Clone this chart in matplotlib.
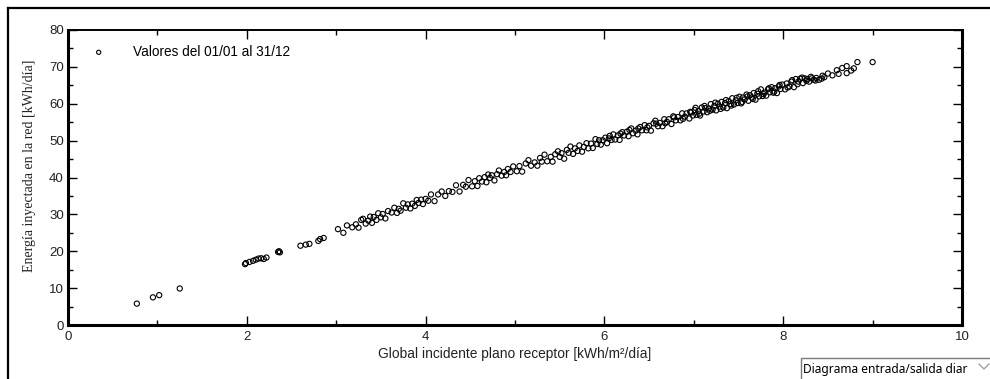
import matplotlib.pyplot as plt
from matplotlib.lines import Line2D
from matplotlib.patches import Rectangle
from matplotlib.ticker import MultipleLocator

# daily values: global irradiation on collector plane vs. energy injected into grid
irr = [0.77, 0.95, 1.02, 1.25,
       1.98, 1.99, 2.03, 2.07, 2.10, 2.13, 2.16, 2.19, 2.22,
       2.35, 2.36, 2.37, 2.60, 2.66, 2.70, 2.80, 2.82, 2.86,
       3.02, 3.08, 3.12, 3.18, 3.22, 3.25, 3.28, 3.30, 3.33, 3.36, 3.38, 3.40,
       3.42, 3.45, 3.47, 3.50, 3.52, 3.55, 3.58, 3.62, 3.65, 3.68, 3.70, 3.72,
       3.75, 3.78, 3.80, 3.83, 3.85, 3.88, 3.90, 3.92, 3.95, 3.97, 4.00,
       4.03, 4.06, 4.10, 4.14, 4.18, 4.22, 4.26, 4.30, 4.34, 4.38, 4.42, 4.45,
       4.48, 4.52, 4.55, 4.58, 4.60, 4.63, 4.66, 4.68, 4.70, 4.72, 4.74, 4.77,
       4.80, 4.82, 4.85, 4.88, 4.90, 4.92, 4.95, 4.98,
       5.02, 5.05, 5.08, 5.12, 5.15, 5.18, 5.22, 5.25, 5.28, 5.30, 5.33, 5.36,
       5.40, 5.42, 5.45, 5.48, 5.50, 5.52, 5.55, 5.58, 5.60, 5.62, 5.65, 5.67,
       5.70, 5.72, 5.75, 5.77, 5.80, 5.82, 5.85, 5.87, 5.90, 5.92, 5.94, 5.96, 5.98,
       6.01, 6.03, 6.05, 6.08, 6.10, 6.12, 6.15, 6.17, 6.20, 6.22, 6.25, 6.27,
       6.30, 6.32, 6.35, 6.37, 6.40, 6.42, 6.45, 6.47, 6.50, 6.52, 6.55, 6.57,
       6.60, 6.62, 6.65, 6.67, 6.70, 6.72, 6.75, 6.77, 6.80, 6.82, 6.85, 6.87,
       6.90, 6.92, 6.95, 6.97, 6.99,
       7.01, 7.03, 7.05, 7.07, 7.09, 7.11, 7.13, 7.15, 7.17, 7.19, 7.21, 7.23,
       7.25, 7.27, 7.29, 7.31, 7.33, 7.35, 7.37, 7.39, 7.41, 7.43, 7.45, 7.47,
       7.49, 7.51, 7.53, 7.55, 7.57, 7.59, 7.61, 7.63, 7.65, 7.67, 7.69, 7.71,
       7.73, 7.75, 7.77, 7.79, 7.81, 7.83, 7.85, 7.87, 7.89, 7.91, 7.93, 7.95,
       7.97, 7.99,
       8.02, 8.04, 8.07, 8.09, 8.12, 8.14, 8.17, 8.19, 8.22, 8.24, 8.27, 8.29,
       8.32, 8.34, 8.37, 8.40, 8.43, 8.46, 8.50, 8.55, 8.60, 8.62, 8.66, 8.71,
       8.71, 8.76, 8.79, 8.83, 9.00,
       6.06, 6.18, 6.28, 6.38, 6.48, 6.58, 6.68, 6.78, 6.88, 6.96,
       7.02, 7.06, 7.12, 7.18, 7.24, 7.30, 7.36, 7.42, 7.48, 7.54, 7.60, 7.66,
       7.72, 7.78, 7.84, 7.90, 7.96, 8.05, 8.10, 8.16, 8.21, 8.26, 8.31, 8.36, 8.44]

energy = [5.8, 7.5, 8.1, 9.9,
          16.5, 16.8, 17.1, 17.4, 17.7, 18.0, 18.1, 17.9, 18.3,
          19.8, 20.0, 19.7, 21.5, 21.8, 22.0, 22.8, 23.3, 23.6,
          26.0, 25.0, 27.0, 26.5, 27.3, 26.4, 28.5, 28.8, 27.5, 28.3, 29.4, 27.7,
          29.3, 28.5, 30.3, 29.2, 30.1, 28.9, 30.9, 30.5, 31.8, 30.4, 31.5, 31.0,
          33.0, 31.8, 32.7, 31.6, 32.9, 32.3, 33.9, 33.1, 34.0, 32.8, 34.2,
          33.7, 35.4, 33.6, 35.4, 36.2, 35.0, 36.3, 36.1, 37.9, 36.2, 38.0, 37.5,
          39.3, 37.6, 39.0, 37.7, 39.8, 38.9, 40.1, 38.7, 40.8, 39.9, 40.6, 39.2,
          40.9, 41.9, 40.5, 41.5, 40.6, 42.3, 41.5, 43.0,
          41.7, 43.1, 41.6, 43.8, 44.7, 43.2, 44.1, 43.2, 45.3, 44.3, 46.2, 44.4,
          45.6, 44.3, 46.3, 47.1, 45.6, 46.6, 45.1, 47.5, 46.7, 48.4, 46.4, 47.9,
          47.2, 48.7, 47.0, 48.3, 49.3, 47.9, 49.2, 48.0, 50.4, 49.1, 50.1, 48.9, 50.1,
          50.8, 49.3, 50.6, 50.2, 51.7, 50.3, 51.4, 50.2, 52.3, 51.4, 52.4, 51.2,
          53.3, 52.0, 52.7, 51.7, 53.7, 52.8, 54.2, 52.8, 54.0, 52.7, 54.7, 55.4,
          53.9, 54.8, 53.9, 55.8, 55.1, 55.8, 54.5, 56.6, 55.5, 56.4, 55.5, 57.4,
          56.5, 57.4, 56.0, 57.6, 56.8,
          58.3, 57.0, 58.0, 56.8, 59.0, 57.9, 58.8, 57.7, 58.7, 59.9, 58.4, 59.4,
          58.2, 60.0, 59.2, 60.5, 59.0, 60.2, 58.8, 60.7, 59.9, 61.5, 59.8, 60.9,
          60.2, 61.9, 60.1, 61.7, 61.2, 62.5, 60.8, 62.3, 61.7, 62.9, 61.1, 62.7,
          62.0, 63.9, 62.1, 63.0, 62.2, 63.9, 63.1, 64.5, 63.0, 64.2, 62.9, 64.7,
          64.0, 65.2,
          63.9, 65.5, 64.7, 66.0, 64.5, 66.7, 66.0, 66.8, 65.6, 66.9, 66.7, 66.0,
          66.9, 66.5, 67.0, 66.5, 66.8, 67.2, 68.2, 67.7, 69.1, 68.1, 69.7, 70.2,
          68.3, 69.0, 69.6, 71.3, 71.3,
          51.3, 51.9, 52.9, 53.3, 53.6, 54.6, 54.7, 56.3, 55.9, 57.8,
          58.9, 57.3, 59.4, 58.1, 60.3, 58.6, 61.0, 59.5, 61.6, 60.5, 62.0, 61.3,
          63.4, 62.6, 64.2, 63.3, 65.1, 64.4, 66.4, 65.3, 67.1, 66.2, 67.3, 66.3, 67.6]

legend_label = 'Valores del 01/01 al 31/12'
x_label = 'Global incidente plano receptor [kWh/m²/día]'
y_label = 'Energía inyectada en la red [kWh/día]'
combo_text = 'Diagrama entrada/salida diar'

fig = plt.figure(figsize=(9.9, 3.79), dpi=100)
ax = fig.add_axes([68 / 990, 1 - 325 / 379, (962 - 68) / 990, (325 - 30) / 379])

ax.scatter(irr, energy, s=14, facecolors='none', edgecolors='black',
           linewidths=0.8, label=legend_label, zorder=3)

ax.set_xlim(0, 10)
ax.set_ylim(0, 80)
ax.xaxis.set_major_locator(MultipleLocator(2))
ax.xaxis.set_minor_locator(MultipleLocator(1))
ax.yaxis.set_major_locator(MultipleLocator(10))
ax.yaxis.set_minor_locator(MultipleLocator(5))
ax.tick_params(which='both', direction='in', top=True, right=True,
               labelsize=9.5, labelcolor='#222222', width=1.0)
ax.tick_params(which='major', length=6.5)
ax.tick_params(which='minor', length=3.5)
ax.tick_params(axis='y', pad=3)
ax.tick_params(axis='x', pad=4)
for side in ['left', 'bottom', 'right']:
    ax.spines[side].set_linewidth(2.2)
ax.spines['top'].set_linewidth(1.4)
for lab in ax.get_xticklabels() + ax.get_yticklabels():
    lab.set_family('Liberation Sans')

ax.set_xlabel(x_label, fontsize=9.9, family='Liberation Sans', color='#222222',
              labelpad=3)
fig.text(30 / 990, 1 - 166 / 379, y_label, rotation=90, ha='center', va='center',
         fontsize=10, family='Liberation Serif', color='#222222')

ax.legend(loc='upper left', bbox_to_anchor=(0.013, 0.968), frameon=False,
          handletextpad=1.5, borderaxespad=0, markerscale=0.8,
          prop={'family': 'Liberation Sans', 'size': 9.8})

# outer window frame
fig.add_artist(Line2D([8 / 990, 8 / 990], [0, 1 - 8 / 379], color='black', lw=1.6,
                      transform=fig.transFigure))
fig.add_artist(Line2D([8 / 990, 1], [1 - 8 / 379, 1 - 8 / 379], color='black', lw=1.6,
                      transform=fig.transFigure))

# combo box at bottom right
fig.add_artist(Rectangle((801 / 990, -0.01), 0.3, (379 - 358) / 379 + 0.01,
                         facecolor='white', edgecolor='#7a7a7a', lw=1.0,
                         transform=fig.transFigure))
fig.text(803 / 990, 1 - 369 / 379, combo_text, ha='left', va='center',
         fontsize=8.6, family='Noto Sans', color='black')
fig.add_artist(Line2D([979 / 990, 984 / 990, 989 / 990],
                      [1 - 364 / 379, 1 - 369 / 379, 1 - 364 / 379],
                      color='#9a9a9a', lw=0.9, transform=fig.transFigure))

fig.savefig('out.png', dpi=100)
